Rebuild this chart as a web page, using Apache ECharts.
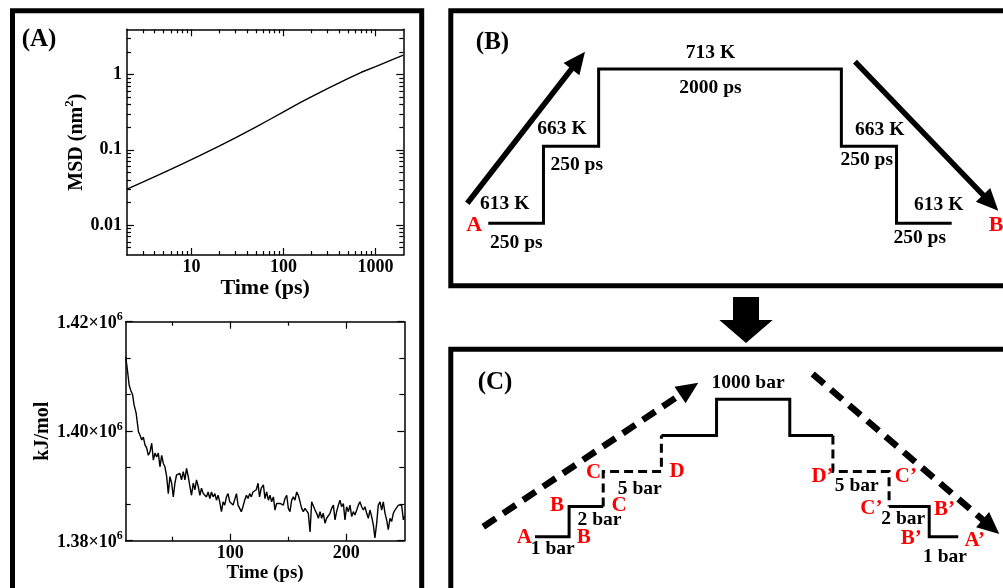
<!DOCTYPE html>
<html><head><meta charset="utf-8">
<script src="https://cdn.jsdelivr.net/npm/echarts@6/dist/echarts.min.js"></script>
<style>html,body{margin:0;padding:0;background:#fff}#c{width:1003px;height:588px}</style>
</head><body><div id="c"></div>
<script>
// ---------- Panel A (top): MSD, log-log ----------
const msdTime  = [2, 3, 5, 8, 12, 20, 30, 50, 70, 100, 150, 200, 300, 500, 700, 1000, 1500, 2000];
const msdValue = [0.030, 0.0375, 0.0499, 0.0652, 0.0824, 0.112, 0.144, 0.200, 0.251, 0.320, 0.420, 0.506, 0.650, 0.883, 1.074, 1.28, 1.57, 1.81];
const msdXTicks = [10, 100, 1000];
const msdYTicks = [0.01, 0.1, 1];

// ---------- Panel A (bottom): energy vs time ----------
const energyTime = [10.0,11.3,13.0,14.3,16.0,17.2,19.0,21.0,22.3,23.8,25.2,26.6,28.1,29.5,30.9,32.4,33.8,35.2,36.7,38.1,39.5,41.0,42.4,43.8,45.3,46.7,48.1,49.6,51.0,52.4,53.8,55.3,56.7,58.1,59.6,61.0,62.4,63.9,65.3,66.7,68.2,69.6,71.0,72.5,73.9,75.3,76.8,78.2,79.6,81.0,82.5,83.9,85.3,86.8,88.2,89.6,91.0,92.5,93.9,95.3,96.8,98.2,99.6,101.0,102.5,104.0,105.4,106.8,108.2,109.6,111.0,112.5,114.0,115.4,116.8,118.2,119.6,121.0,122.5,124.0,125.3,126.8,128.6,130.0,131.4,132.9,134.3,135.7,137.2,138.6,140.0,141.5,143.0,144.4,145.8,147.2,148.7,150.1,151.5,153.0,154.4,155.8,157.3,158.7,160.2,161.6,163.0,164.5,165.9,167.3,168.8,170.2,171.6,173.1,174.5,176.0,177.4,178.8,180.2,181.7,183.1,184.6,186.0,187.4,188.9,190.3,191.7,193.2,194.6,196.0,197.5,198.9,200.3,201.8,203.2,204.7,206.1,207.5,209.0,210.4,211.8,213.3,214.7,216.1,217.6,219.0,220.4,221.9,223.3,224.7,226.2,227.6,229.1,230.5,231.9,233.4,234.8,236.2,237.7,239.1,240.5,242.0,243.4,244.9,246.3,247.7,249.2,250.0];
const energyValue = [1413600,1411500,1408400,1407500,1406600,1404800,1403300,1399900,1399300,1398400,1398900,1397500,1396900,1395600,1396200,1397800,1394700,1396000,1395300,1396000,1393500,1395600,1394100,1393500,1391700,1388600,1391700,1390500,1388000,1390500,1392000,1391700,1392300,1391100,1392600,1391100,1393200,1391700,1389900,1388300,1390500,1389300,1391100,1389900,1388300,1389600,1388600,1388900,1388000,1388900,1387700,1388900,1388000,1388600,1387400,1388300,1387100,1385300,1387100,1386500,1388000,1388600,1387100,1386800,1386500,1386200,1388600,1386500,1386200,1385300,1386200,1387400,1388300,1387700,1388600,1388000,1388900,1388600,1389300,1390500,1388000,1389600,1390200,1387700,1388900,1387400,1388300,1387100,1388000,1385600,1386800,1387100,1386800,1387100,1386500,1387700,1388300,1385900,1385300,1387400,1388000,1387400,1388900,1388300,1387100,1385900,1385300,1385900,1386200,1385000,1381600,1387100,1386800,1385600,1385000,1384100,1385300,1384100,1385000,1383200,1384100,1383800,1385000,1385900,1386500,1383800,1385300,1386500,1387400,1386200,1386800,1383800,1386200,1385300,1386500,1384400,1385300,1384700,1385600,1386500,1387100,1386200,1385600,1386200,1385000,1384100,1385600,1384400,1382900,1380500,1383200,1386500,1387100,1385600,1387100,1385000,1383800,1382000,1384100,1383500,1385000,1385600,1385300,1386500,1386800,1386500,1383800,1384500];
const energyXTicks = [100, 200];
const energyXMinor = [50, 150];
const energyYTicks = [1380000, 1400000, 1420000];

// ---------- Panel B: temperature schedule ----------
const bTemps     = [613, 663, 713, 663, 613];
const bDurations = ['250 ps', '250 ps', '2000 ps', '250 ps', '250 ps'];
const bDrawWidth = [1, 1, 4.4, 1, 1];            // schematic drawn width of each stage

// ---------- Panel C: pressure schedule ----------
const cStageLevel = [0, 30, 65, 101, 137, 101, 65, 30, 0];   // schematic height of each stage
const cDrawWidth  = [34, 34, 58, 55, 73, 43, 56, 40, 29];      // schematic drawn width of each stage
const cDashed     = [false, false, true, false, false, false, true, false, false];

const F = '"Liberation Serif","Times New Roman",serif';
const chart = echarts.init(document.getElementById('c'), null, {renderer: 'canvas'});

function minorLog(min, max, majors) {
  const out = [];
  for (let e = -4; e <= 4; e++) {
    const d = Math.pow(10, e);
    for (let k = 2; k <= 9; k++) {
      const v = Number((d * k).toPrecision(3));
      if (v > min && v < max && majors.indexOf(v) < 0) out.push(v);
    }
  }
  return out;
}
const msdXMinor = minorLog(2, 2000, msdXTicks);
const msdYMinor = minorLog(0.004, 4, msdYTicks);
const energyYMinor = [];
for (let i = 0; i < energyYTicks.length - 1; i++) {
  const a = energyYTicks[i], b = energyYTicks[i + 1];
  energyYMinor.push(a + (b - a) / 3, a + 2 * (b - a) / 3);
}

const black = '#000';
function tickAxis(o) {
  return {
    gridIndex: o.grid, type: o.type, min: o.min, max: o.max, position: o.pos,
    splitLine: {show: false},
    axisLine: {show: !!o.line, onZero: false, lineStyle: {color: black, width: 1.5}},
    axisTick: {show: true, inside: true, length: o.len, customValues: o.ticks, lineStyle: {color: black, width: 1.2}},
    axisLabel: o.label ? Object.assign({show: true, color: black, fontFamily: F, fontWeight: 'bold', fontSize: 18}, o.label) : {show: false},
    name: o.name || '', nameLocation: 'middle', nameGap: o.nameGap || 0,
    nameTextStyle: o.nameStyle || {},
    silent: true
  };
}

const supRich = (size, supSize, lift) => ({
  a: {fontSize: size, fontWeight: 'bold', fontFamily: F, color: black, verticalAlign: 'bottom'},
  s: {fontSize: supSize, fontWeight: 'bold', fontFamily: F, color: black, verticalAlign: 'bottom', padding: [0, 0, lift, 0]}
});

const xAxes = [
  tickAxis({grid: 0, type: 'log', min: 2, max: 2000, pos: 'bottom', line: true, len: 7, ticks: msdXTicks,
    label: {customValues: msdXTicks, margin: 3, formatter: v => String(Math.round(v))},
    name: 'Time (ps)', nameGap: 16, nameStyle: {fontFamily: F, fontWeight: 'bold', fontSize: 22, color: black}}),
  tickAxis({grid: 0, type: 'log', min: 2, max: 2000, pos: 'bottom', len: 4, ticks: msdXMinor}),
  tickAxis({grid: 0, type: 'log', min: 2, max: 2000, pos: 'top', line: true, len: 7, ticks: msdXTicks}),
  tickAxis({grid: 0, type: 'log', min: 2, max: 2000, pos: 'top', len: 4, ticks: msdXMinor}),
  tickAxis({grid: 1, type: 'value', min: 10, max: 250, pos: 'bottom', line: true, len: 7, ticks: energyXTicks,
    label: {customValues: energyXTicks, margin: 4},
    name: 'Time (ps)', nameGap: 21, nameStyle: {fontFamily: F, fontWeight: 'bold', fontSize: 19, color: black}}),
  tickAxis({grid: 1, type: 'value', min: 10, max: 250, pos: 'bottom', len: 4, ticks: energyXMinor}),
  tickAxis({grid: 1, type: 'value', min: 10, max: 250, pos: 'top', line: true, len: 7, ticks: energyXTicks}),
  tickAxis({grid: 1, type: 'value', min: 10, max: 250, pos: 'top', len: 4, ticks: energyXMinor}),
  {gridIndex: 2, type: 'value', min: 0, max: bDrawWidth.reduce((a, b) => a + b, 0), show: false},
  {gridIndex: 3, type: 'value', min: 0, max: cDrawWidth.reduce((a, b) => a + b, 0), show: false}
];
const yAxes = [
  tickAxis({grid: 0, type: 'log', min: 0.004, max: 4, pos: 'left', line: true, len: 7, ticks: msdYTicks,
    label: {customValues: msdYTicks, margin: 5, formatter: v => String(Number(Number(v).toPrecision(3)))},
    name: '{a|MSD (nm}{s|2}{a|)}', nameGap: 39, nameStyle: {rich: supRich(20, 13, 10)}}),
  tickAxis({grid: 0, type: 'log', min: 0.004, max: 4, pos: 'left', len: 4, ticks: msdYMinor}),
  tickAxis({grid: 0, type: 'log', min: 0.004, max: 4, pos: 'right', line: true, len: 7, ticks: msdYTicks}),
  tickAxis({grid: 0, type: 'log', min: 0.004, max: 4, pos: 'right', len: 4, ticks: msdYMinor}),
  tickAxis({grid: 1, type: 'value', min: 1380000, max: 1420000, pos: 'left', line: true, len: 7, ticks: energyYTicks,
    label: {customValues: energyYTicks, margin: 3,
      formatter: v => '{a|' + (v / 1e6).toFixed(2) + '×10}{s|6}', rich: supRich(18, 12, 9)},
    name: 'kJ/mol', nameGap: 69, nameStyle: {fontFamily: F, fontWeight: 'bold', fontSize: 20, color: black}}),
  tickAxis({grid: 1, type: 'value', min: 1380000, max: 1420000, pos: 'left', len: 5, ticks: energyYMinor}),
  tickAxis({grid: 1, type: 'value', min: 1380000, max: 1420000, pos: 'right', line: true, len: 7, ticks: energyYTicks}),
  tickAxis({grid: 1, type: 'value', min: 1380000, max: 1420000, pos: 'right', len: 5, ticks: energyYMinor}),
  {gridIndex: 2, type: 'value', min: 613, max: 713, show: false},
  {gridIndex: 3, type: 'value', min: 0, max: 137, show: false}
];

// Panel B step path
const bPts = [];
let bx = 0;
bTemps.forEach((t, i) => {
  bPts.push([bx, t]);
  bx += bDrawWidth[i];
  bPts.push([bx, t]);
});

// Panel C step path split into solid / dashed runs
const cXs = [0];
cDrawWidth.forEach(w => cXs.push(cXs[cXs.length - 1] + w));
const pieces = [];
cStageLevel.forEach((lv, i) => {
  pieces.push({d: cDashed[i], pts: [[cXs[i], lv], [cXs[i + 1], lv]]});
  if (i < cStageLevel.length - 1) {
    pieces.push({d: cDashed[i] || cDashed[i + 1], pts: [[cXs[i + 1], lv], [cXs[i + 1], cStageLevel[i + 1]]]});
  }
});
const runs = [];
pieces.forEach(p => {
  const last = runs[runs.length - 1];
  if (last && last.d === p.d) last.pts.push(p.pts[1]);
  else runs.push({d: p.d, pts: [p.pts[0], p.pts[1]]});
});

const series = [
  {type: 'line', xAxisIndex: 0, yAxisIndex: 0, data: msdTime.map((t, i) => [t, msdValue[i]]),
   showSymbol: false, symbol: 'none', lineStyle: {color: black, width: 1.4}, silent: true},
  {type: 'line', xAxisIndex: 4, yAxisIndex: 4, data: energyTime.map((t, i) => [t, energyValue[i]]),
   showSymbol: false, symbol: 'none', lineStyle: {color: black, width: 1.4}, silent: true},
  {type: 'line', xAxisIndex: 8, yAxisIndex: 8, data: bPts, showSymbol: false, symbol: 'none', clip: false,
   lineStyle: {color: black, width: 3, join: 'miter', cap: 'butt'}, silent: true}
];
runs.forEach(r => series.push({
  type: 'line', xAxisIndex: 9, yAxisIndex: 9, data: r.pts, showSymbol: false, symbol: 'none', clip: false,
  lineStyle: {color: black, width: 3, type: r.d ? [9, 5] : 'solid', join: 'miter'}, silent: true
}));

// ---------- annotations ----------
const G = [];
function txt(x, y, text, size, color) {
  G.push({type: 'text', x: x, y: y, z: 100, silent: true,
    style: {text: text, font: 'bold ' + size + 'px ' + F, fill: color || black,
      align: 'center', verticalAlign: 'middle', textAlign: 'center', textVerticalAlign: 'middle'}});
}
function arrow(t, p, sw, hl, hw, dash) {
  const dx = p[0] - t[0], dy = p[1] - t[1], L = Math.hypot(dx, dy);
  const ux = dx / L, uy = dy / L, nx = -uy, ny = ux;
  const b = [p[0] - ux * hl, p[1] - uy * hl];
  G.push({type: 'line', z: 90, silent: true, shape: {x1: t[0], y1: t[1], x2: b[0] + ux, y2: b[1] + uy},
    style: {stroke: black, lineWidth: sw, lineDash: dash || null, lineCap: 'butt'}});
  G.push({type: 'polygon', z: 90, silent: true,
    shape: {points: [p, [b[0] + nx * hw / 2, b[1] + ny * hw / 2], [b[0] - nx * hw / 2, b[1] - ny * hw / 2]]},
    style: {fill: black}});
}
function box(x, y, w, h) {
  G.push({type: 'rect', z: 95, silent: true, shape: {x: x, y: y, width: w, height: h},
    style: {fill: 'none', stroke: black, lineWidth: 5}});
}
box(12.5, 10.8, 409.2, 640);
box(450.8, 10.8, 620, 275);
box(450.8, 349.2, 620, 400);

// panel letters
txt(39, 40, '(A)', 25);
txt(492.5, 43, '(B)', 25);
txt(495, 383, '(C)', 25);

// Panel B texts
const BT = 19.5, RED = '#ff0000';
txt(710.5, 53.3, bTemps[2] + ' K', BT);
txt(710.5, 88.3, bDurations[2], BT);
txt(562, 129.3, bTemps[1] + ' K', BT);
txt(576.7, 165, bDurations[1], BT);
txt(504.7, 204.3, bTemps[0] + ' K', BT);
txt(516.3, 243.3, bDurations[0], BT);
txt(879.7, 130, bTemps[3] + ' K', BT);
txt(866.7, 160, bDurations[3], BT);
txt(938.7, 205, bTemps[4] + ' K', BT);
txt(919.7, 238.3, bDurations[4], BT);
txt(474.3, 225, 'A', 22, RED);
txt(996, 225, 'B', 22, RED);
arrow([467.3, 203.3], [585, 51.7], 5.5, 22, 20);
arrow([855, 61.7], [998.3, 210.7], 5.5, 22, 20);

// big down arrow between B and C
G.push({type: 'polygon', z: 90, silent: true, shape: {points: [[733, 297], [759, 297], [759, 320], [772.7, 320], [746, 343], [719.3, 320], [733, 320]]}, style: {fill: black}});

// Panel C texts
const CT = 19.5, CR = 21;
txt(748, 383.4, '1000 bar', CT);
txt(524.3, 537.3, 'A', CR, RED);
txt(552.8, 549.3, '1 bar', CT);
txt(583.7, 537.3, 'B', CR, RED);
txt(557, 506, 'B', CR, RED);
txt(599.5, 520, '2 bar', CT);
txt(619, 506, 'C', CR, RED);
txt(593.7, 472.7, 'C', CR, RED);
txt(639.7, 489.3, '5 bar', CT);
txt(677.2, 471.7, 'D', CR, RED);
txt(822.5, 476.7, 'D’', CR, RED);
txt(856.7, 486, '5 bar', CT);
txt(905.8, 476.7, 'C’', CR, RED);
txt(871.3, 508.3, 'C’', CR, RED);
txt(903.3, 519.3, '2 bar', CT);
txt(944.5, 510, 'B’', CR, RED);
txt(911.3, 538.3, 'B’', CR, RED);
txt(974.7, 540.7, 'A’', CR, RED);
txt(945, 556.7, '1 bar', CT);
arrow([483.3, 526.7], [698.3, 382.7], 6.5, 22, 20, [15, 9]);
arrow([812.7, 374], [999.3, 534], 6.5, 22, 20, [15, 9]);

chart.setOption({
  animation: false,
  backgroundColor: '#fff',
  textStyle: {fontFamily: F},
  grid: [
    {left: 127, top: 29.3, width: 276.3, height: 225.7},
    {left: 125.7, top: 321.7, width: 278.6, height: 219},
    {left: 488.3, top: 69, width: 463.4, height: 154.3},
    {left: 535, top: 399.3, width: 423.3, height: 137.4}
  ],
  xAxis: xAxes,
  yAxis: yAxes,
  series: series,
  graphic: {elements: G}
});
</script></body></html>
